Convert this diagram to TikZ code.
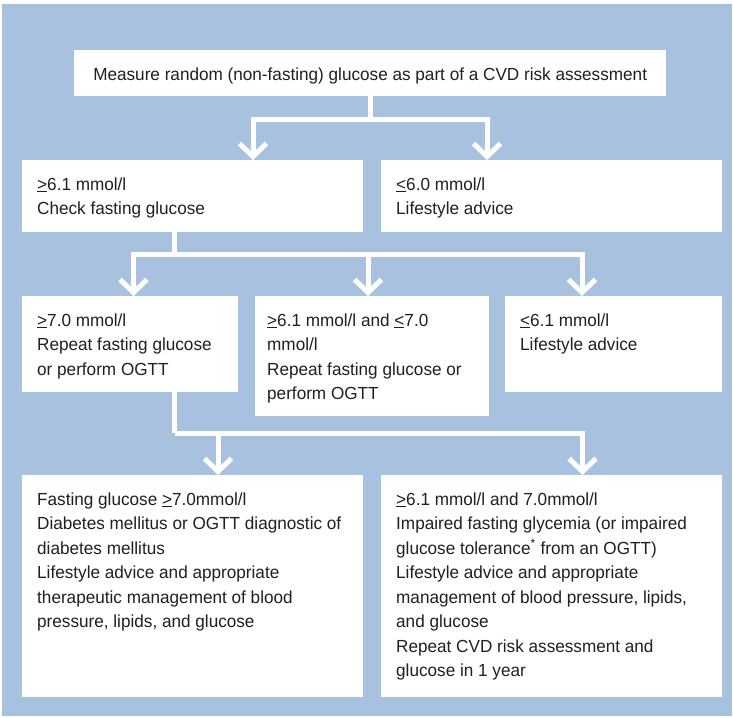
\documentclass[tikz,border=0pt]{standalone}
\usepackage{fontspec}
\setmainfont[FakeStretch=0.98]{Liberation Sans}
\usetikzlibrary{arrows.meta,calc}
\definecolor{bgblue}{RGB}{167,193,222}
\definecolor{txt}{RGB}{35,31,32}
\newcommand\ulsym[1]{\underline{#1}}
\newcommand\boxtxt[3]{\parbox[c][#2pt][t]{#1pt}{\raggedright\rule{0pt}{30pt}#3}}
\begin{document}
\begin{tikzpicture}[x=1pt,y=-1pt,
  box/.style={fill=white, inner ysep=0pt, inner xsep=15pt, anchor=north west, text=txt,
    font=\fontsize{17.5}{24.5}\selectfont},
  conn/.style={draw=white, line width=5pt, line join=miter,
    -{Straight Barb[length=13pt,width=27pt]}},
  plain/.style={draw=white, line width=5pt, line join=miter}]
\useasboundingbox (0,0) rectangle (733,717);
\fill[bgblue] (2,4) rectangle (732,716);

% top
\node[box, inner xsep=0pt] (top) at (74,50) {\parbox[c][46pt][t]{592pt}{\centering\rule{0pt}{30pt}Measure random (non-fasting) glucose as part of a CVD risk assessment}};
% row 2
\node[box] (r2a) at (22,160) {\boxtxt{311}{72}{\ulsym{>}6.1 mmol/l\\Check fasting glucose}};
\node[box] (r2b) at (381,160) {\boxtxt{311}{72}{\ulsym{<}6.0 mmol/l\\Lifestyle advice}};
% row 3
\node[box] (r3a) at (22,296) {\boxtxt{186}{96}{\ulsym{>}7.0 mmol/l\\Repeat fasting glucose\\or perform OGTT}};
\node[box, inner xsep=12pt] (r3b) at (255,296) {\boxtxt{210}{120}{\ulsym{>}6.1 mmol/l and \ulsym{<}7.0\\mmol/l\\Repeat fasting glucose or\\perform OGTT}};
\node[box] (r3c) at (505,296) {\boxtxt{187}{96}{\ulsym{<}6.1 mmol/l\\Lifestyle advice}};
% row 4
\node[box] (r4a) at (22,475) {\boxtxt{311}{222}{Fasting glucose \ulsym{>}7.0mmol/l\\Diabetes mellitus or OGTT diagnostic of\\diabetes mellitus\\Lifestyle advice and appropriate\\therapeutic management of blood\\pressure, lipids, and glucose}};
\node[box] (r4b) at (381,475) {\boxtxt{311}{222}{\ulsym{>}6.1 mmol/l and 7.0mmol/l\\Impaired fasting glycemia (or impaired\\glucose tolerance\textsuperscript{*} from an OGTT)\\Lifestyle advice and appropriate\\management of blood pressure, lipids,\\and glucose\\Repeat CVD risk assessment and\\glucose in 1 year}};

% connectors top -> row 2
\coordinate (j1) at ($(top.south)+(0,23)$);
\draw[plain] (top.south) -- (j1);
\draw[conn] (j1) -| ([xshift=231pt]r2a.north west);
\draw[conn] (j1) -| ([xshift=106pt]r2b.north west);
% row 2 -> row 3
\coordinate (s2) at ([xshift=152pt]r2a.south west);
\coordinate (j2) at ($(s2)+(0,22)$);
\draw[plain] (s2) -- (j2);
\draw[conn] (j2) -| ([xshift=111.5pt]r3a.north west);
\draw[conn] (j2) -| ([xshift=113pt]r3b.north west);
\draw[conn] (j2) -| ([xshift=77pt]r3c.north west);
% row 3 -> row 4
\coordinate (s3) at ([xshift=152.5pt]r3a.south west);
\coordinate (j3) at ($(s3)+(0,41)$);
\draw[plain] (s3) -- (j3);
\draw[conn] (j3) -| ([xshift=196pt]r4a.north west);
\draw[conn] (j3) -| ([xshift=201.5pt]r4b.north west);
\end{tikzpicture}
\end{document}
